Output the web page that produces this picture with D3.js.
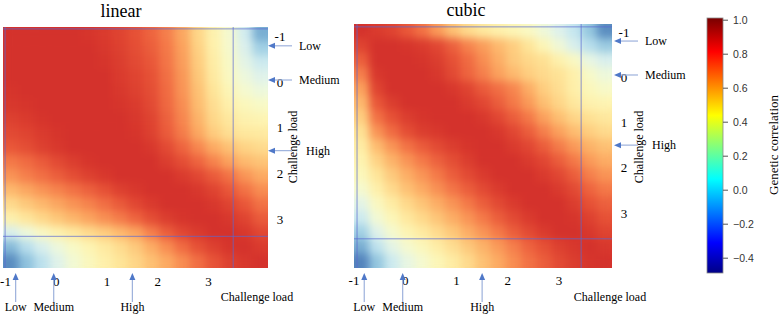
<!DOCTYPE html>
<html>
<head>
<meta charset="utf-8">
<script src="https://cdn.jsdelivr.net/npm/d3@7"></script>
<style>
body{margin:0;background:#fff;}
svg{display:block;}
</style>
</head>
<body>
<div class="mainView"></div>
<script>
// challenge load grid of the correlation surfaces (cell centres)
let loads = [-1.0,-0.7,-0.4,-0.1,0.2,0.5,0.8,1.1,1.4,1.7,2.0,2.3,2.6,2.9,3.2,3.5,3.8];

// genetic correlation, rows = load on the vertical axis (top to bottom)
let linearCorr = [
    [1.00,1.00,1.00,1.00,1.00,0.99,0.97,0.94,0.90,0.84,0.76,0.64,0.47,0.32,0.20,0.02,-0.30],
    [1.00,1.00,1.00,1.00,1.00,1.00,0.98,0.95,0.91,0.86,0.78,0.66,0.49,0.33,0.21,0.06,-0.15],
    [1.00,1.00,1.00,1.00,1.00,1.00,0.99,0.96,0.92,0.88,0.79,0.67,0.51,0.35,0.23,0.10,0.00],
    [1.00,1.00,1.00,1.00,1.00,1.00,1.00,0.97,0.94,0.90,0.81,0.69,0.53,0.37,0.25,0.15,0.08],
    [0.99,1.00,1.00,1.00,1.00,1.00,1.00,0.98,0.95,0.91,0.82,0.70,0.55,0.40,0.29,0.20,0.15],
    [0.98,0.99,1.00,1.00,1.00,1.00,1.00,0.99,0.97,0.92,0.83,0.72,0.57,0.43,0.33,0.27,0.23],
    [0.95,0.97,0.99,1.00,1.00,1.00,1.00,1.00,0.98,0.94,0.85,0.74,0.60,0.46,0.38,0.32,0.30],
    [0.92,0.94,0.97,0.99,1.00,1.00,1.00,1.00,0.99,0.95,0.87,0.77,0.64,0.51,0.43,0.38,0.37],
    [0.88,0.91,0.95,0.98,1.00,1.00,1.00,1.00,1.00,0.98,0.92,0.84,0.74,0.63,0.55,0.48,0.45],
    [0.78,0.82,0.87,0.92,0.96,0.99,1.00,1.00,1.00,1.00,0.96,0.91,0.84,0.75,0.66,0.58,0.54],
    [0.70,0.76,0.81,0.86,0.91,0.95,0.98,1.00,1.00,1.00,1.00,0.97,0.93,0.87,0.80,0.70,0.63],
    [0.58,0.64,0.70,0.75,0.80,0.85,0.90,0.95,0.98,1.00,1.00,1.00,0.98,0.94,0.88,0.80,0.72],
    [0.45,0.52,0.58,0.64,0.70,0.75,0.81,0.87,0.93,0.97,1.00,1.00,1.00,0.98,0.94,0.88,0.80],
    [0.32,0.39,0.46,0.53,0.59,0.65,0.71,0.77,0.84,0.91,0.96,0.99,1.00,1.00,0.98,0.94,0.87],
    [0.05,0.15,0.24,0.32,0.38,0.45,0.51,0.58,0.65,0.76,0.86,0.93,0.97,1.00,1.00,0.98,0.93],
    [-0.25,-0.08,0.05,0.15,0.23,0.30,0.37,0.44,0.52,0.62,0.72,0.82,0.90,0.95,0.99,1.00,0.97],
    [-0.42,-0.22,-0.06,0.08,0.18,0.26,0.33,0.40,0.47,0.55,0.63,0.72,0.81,0.89,0.95,0.98,1.00]
];

let cubicCorr = [
    [1.00,0.97,0.94,0.88,0.80,0.68,0.55,0.45,0.38,0.33,0.29,0.24,0.16,0.07,-0.03,-0.20,-0.42],
    [0.94,1.00,1.00,0.99,0.97,0.93,0.85,0.75,0.67,0.58,0.50,0.40,0.28,0.17,0.05,-0.08,-0.18],
    [0.86,1.00,1.00,1.00,0.99,0.96,0.90,0.82,0.72,0.62,0.52,0.46,0.42,0.32,0.24,0.12,0.05],
    [0.76,0.98,1.00,1.00,1.00,0.98,0.92,0.84,0.76,0.66,0.58,0.50,0.45,0.41,0.33,0.22,0.15],
    [0.66,0.94,1.00,1.00,1.00,1.00,0.98,0.94,0.87,0.81,0.74,0.62,0.50,0.43,0.34,0.27,0.22],
    [0.58,0.88,0.96,1.00,1.00,1.00,1.00,0.97,0.93,0.86,0.78,0.68,0.56,0.47,0.38,0.32,0.30],
    [0.50,0.80,0.90,0.96,0.99,1.00,1.00,1.00,0.98,0.93,0.86,0.78,0.66,0.56,0.47,0.42,0.38],
    [0.42,0.70,0.82,0.91,0.96,0.98,1.00,1.00,1.00,0.98,0.93,0.86,0.76,0.66,0.57,0.50,0.45],
    [0.36,0.57,0.70,0.80,0.87,0.92,0.96,0.99,1.00,1.00,0.97,0.93,0.86,0.77,0.68,0.60,0.55],
    [0.31,0.48,0.60,0.70,0.78,0.85,0.91,0.96,1.00,1.00,1.00,0.97,0.93,0.86,0.78,0.68,0.62],
    [0.27,0.40,0.52,0.62,0.70,0.78,0.86,0.92,0.97,1.00,1.00,1.00,0.97,0.93,0.86,0.76,0.70],
    [0.20,0.33,0.45,0.55,0.63,0.71,0.79,0.86,0.92,0.97,1.00,1.00,1.00,0.97,0.92,0.84,0.78],
    [0.10,0.25,0.36,0.46,0.54,0.62,0.70,0.78,0.86,0.92,0.97,1.00,1.00,1.00,0.96,0.90,0.85],
    [0.00,0.18,0.28,0.38,0.46,0.54,0.62,0.70,0.78,0.86,0.92,0.97,1.00,1.00,0.99,0.95,0.90],
    [-0.15,0.08,0.20,0.30,0.37,0.45,0.53,0.62,0.70,0.78,0.86,0.92,0.97,1.00,1.00,0.98,0.94],
    [-0.30,-0.05,0.10,0.20,0.27,0.35,0.43,0.52,0.60,0.68,0.76,0.84,0.90,0.95,0.98,1.00,0.98],
    [-0.45,-0.20,0.00,0.12,0.20,0.28,0.36,0.45,0.55,0.63,0.72,0.80,0.86,0.92,0.96,0.99,1.00]
];

// observed range of challenge load (thin box lines)
let linearBox = [-1.11, 3.28];
let cubicBox = [-1.09, 3.34];

let tickLoads = [-1,0,1,2,3];
let levelNames = ["Low","Medium","High"];
let levelLoads = [-0.8,-0.05,1.5];

let barTicks = [-0.4,-0.2,0.0,0.2,0.4,0.6,0.8,1.0];
let jetValues = [-0.5,-0.3125,0.0625,0.4375,0.8125,1.0];
let jetColors = ["#00007f","#0000ff","#00ffff","#ffff00","#ff0000","#7f0000"];

let serif = "'Liberation Serif','Times New Roman',serif";
let sans = "'Liberation Sans',Arial,sans-serif";

function getConfig(){
    let width = 783, height = 317;
    let svg = d3.select(".mainView").append("svg")
        .attr("width", width)
        .attr("height", height);
    let defs = svg.append("defs");
    let tScale = d3.scaleLinear().domain([-0.5,1]).range([0.9,0.1]);
    let heatColor = (v) => d3.interpolateRdYlBu(tScale(v));
    return { width, height, svg, defs, heatColor };
}

function drawPanel(p, config){
    let { svg, defs, heatColor } = config;
    let xBand = d3.scaleBand().domain(loads).range([p.x0, p.x1]);
    let yBand = d3.scaleBand().domain(loads).range([p.y0, p.y1]);
    let half = 0.15;
    let xLin = d3.scaleLinear().domain([loads[0]-half, loads[loads.length-1]+half]).range([p.x0, p.x1]);
    let yLin = d3.scaleLinear().domain([loads[0]-half, loads[loads.length-1]+half]).range([p.y0, p.y1]);

    // soften the cells a little, keeping the edges opaque
    let f = defs.append("filter")
        .attr("id", "smooth-" + p.title)
        .attr("filterUnits", "userSpaceOnUse")
        .attr("x", p.x0).attr("y", p.y0)
        .attr("width", p.x1 - p.x0).attr("height", p.y1 - p.y0)
        .attr("color-interpolation-filters", "sRGB");
    f.append("feGaussianBlur").attr("stdDeviation", 4.5);
    f.append("feComponentTransfer").append("feFuncA")
        .attr("type", "table").attr("tableValues", "1 1");

    let cells = [];
    p.data.forEach((row, i) => row.forEach((v, j) => cells.push({ r: loads[i], c: loads[j], v: v })));

    svg.append("g")
        .attr("filter", "url(#smooth-" + p.title + ")")
        .selectAll("rect")
        .data(cells)
        .enter()
        .append("rect")
        .attr("x", (d) => xBand(d.c))
        .attr("y", (d) => yBand(d.r))
        .attr("width", xBand.bandwidth() + 0.6)
        .attr("height", yBand.bandwidth() + 0.6)
        .attr("fill", (d) => heatColor(d.v));

    // box lines
    let box = svg.append("g")
        .attr("stroke", "#5a68d2")
        .attr("stroke-opacity", 0.7)
        .attr("stroke-width", 1);
    p.box.forEach((b) => {
        box.append("line")
            .attr("x1", xLin(b)).attr("x2", xLin(b))
            .attr("y1", p.y0).attr("y2", p.y1);
        box.append("line")
            .attr("x1", p.x0).attr("x2", p.x1)
            .attr("y1", yLin(b)).attr("y2", yLin(b));
    });

    // hand placed tick labels
    let xTick = d3.scaleLinear().domain([-1,3]).range(p.tickX);
    let yTick = d3.scaleLinear().domain([-1,3]).range(p.tickY);

    svg.append("text")
        .attr("x", p.titleX).attr("y", p.titleY)
        .attr("text-anchor", "middle")
        .style("font-family", serif).style("font-size", "18px")
        .text(p.title);

    svg.append("g").selectAll("text")
        .data(tickLoads).enter().append("text")
        .attr("x", (d) => xTick(d))
        .attr("y", p.xTickY)
        .attr("text-anchor", "middle")
        .style("font-family", serif).style("font-size", "13px")
        .text((d) => d);

    svg.append("g").selectAll("text")
        .data(tickLoads).enter().append("text")
        .attr("x", p.yTickX)
        .attr("y", (d) => yTick(d) + 4.5)
        .attr("text-anchor", "middle")
        .style("font-family", serif).style("font-size", "13px")
        .text((d) => d);

    svg.append("text")
        .attr("x", p.axisTitleX).attr("y", 301)
        .attr("text-anchor", "middle")
        .style("font-family", serif).style("font-size", "12px")
        .text("Challenge load");

    svg.append("text")
        .attr("transform", "translate(" + [p.rotTitleX, 147] + ") rotate(-90)")
        .attr("text-anchor", "middle")
        .style("font-family", serif).style("font-size", "12px")
        .text("Challenge load");

    // arrows for the three challenge levels
    levelLoads.forEach((l, k) => {
        let ax = xTick(l);
        drawArrow(svg, ax, 302, ax, 273);
        svg.append("text")
            .attr("x", ax).attr("y", 311)
            .attr("text-anchor", "middle")
            .style("font-family", serif).style("font-size", "12px")
            .text(levelNames[k]);

        let ay = yTick(l);
        drawArrow(svg, p.arrowTip + 24, ay, p.arrowTip, ay);
        svg.append("text")
            .attr("x", p.arrowTip + 31 + (k == 2 ? 7 : 0))
            .attr("y", ay + 4)
            .style("font-family", serif).style("font-size", "12px")
            .text(levelNames[k]);
    });
}

function drawArrow(svg, x1, y1, x2, y2){
    let ang = Math.atan2(y2 - y1, x2 - x1);
    let len = 7, w = 3;
    let bx = x2 - len * Math.cos(ang), by = y2 - len * Math.sin(ang);
    svg.append("line")
        .attr("x1", x1).attr("y1", y1)
        .attr("x2", bx).attr("y2", by)
        .attr("stroke", "#9db1dc")
        .attr("stroke-width", 1.2);
    let px = -Math.sin(ang) * w, py = Math.cos(ang) * w;
    svg.append("path")
        .attr("d", "M" + [x2, y2] + "L" + [bx + px, by + py] + "L" + [bx - px, by - py] + "Z")
        .attr("fill", "#4f78c8");
}

function legend(config){
    let { svg, defs } = config;
    let x0 = 707, bw = 16;
    let yScale = d3.scaleLinear().domain([-0.49, 1.01]).range([273, 18]);

    let grad = defs.append("linearGradient")
        .attr("id", "jet")
        .attr("gradientUnits", "userSpaceOnUse")
        .attr("x1", 0).attr("x2", 0)
        .attr("y1", yScale(-0.5)).attr("y2", yScale(1.0));
    jetValues.forEach((v, i) => {
        grad.append("stop")
            .attr("offset", (v + 0.5) / 1.5)
            .attr("stop-color", jetColors[i]);
    });

    svg.append("rect")
        .attr("x", x0).attr("y", yScale(1.01))
        .attr("width", bw).attr("height", yScale(-0.49) - yScale(1.01))
        .attr("fill", "url(#jet)")
        .attr("stroke", "#8a8a8a")
        .attr("stroke-width", 0.8);

    let axis = d3.axisRight(yScale)
        .tickValues(barTicks)
        .tickSize(5)
        .tickFormat(d3.format(".1f"));
    let g = svg.append("g")
        .attr("transform", "translate(" + (x0 + bw) + ",0)")
        .call(axis);
    g.select(".domain").remove();
    g.selectAll("line").attr("stroke", "#555");
    g.selectAll("text")
        .attr("x", 10)
        .style("font-family", sans).style("font-size", "10.5px")
        .attr("fill", "#333");

    svg.append("text")
        .attr("transform", "translate(" + [778, 145] + ") rotate(-90)")
        .attr("text-anchor", "middle")
        .style("font-family", serif).style("font-size", "13px")
        .text("Genetic correlation");
}

let config = getConfig();
drawPanel({ title: "linear", data: linearCorr, box: linearBox,
    x0: 3, x1: 268, y0: 27, y1: 268, titleX: 121, titleY: 17,
    tickX: [5.5, 208.5], tickY: [36.7, 219], xTickY: 286, yTickX: 280,
    axisTitleX: 257, rotTitleX: 297, arrowTip: 268 }, config);
drawPanel({ title: "cubic", data: cubicCorr, box: cubicBox,
    x0: 354, x1: 612, y0: 24, y1: 268, titleX: 466, titleY: 16,
    tickX: [354, 559], tickY: [32, 213], xTickY: 285, yTickX: 624,
    axisTitleX: 610, rotTitleX: 643, arrowTip: 614 }, config);
legend(config);
</script>
</body>
</html>
